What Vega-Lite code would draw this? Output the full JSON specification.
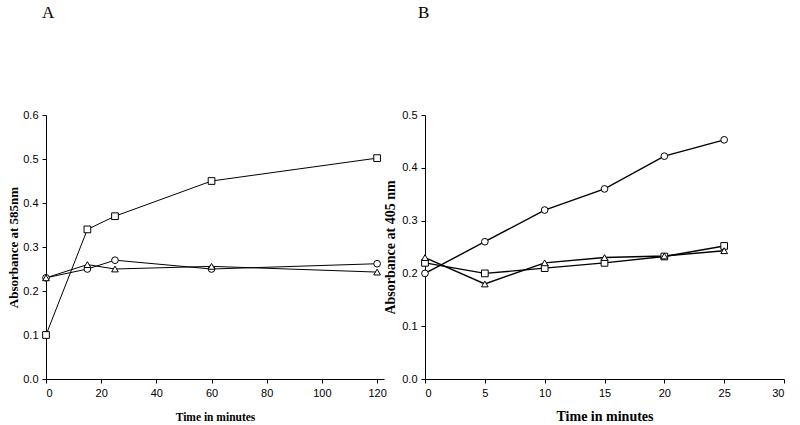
{
  "$schema": "https://vega.github.io/schema/vega-lite/v6.json",
  "padding": {"left": 7, "top": 4, "right": 0, "bottom": 0},
  "background": "white",
  "spacing": -4,
  "config": {
    "view": {"stroke": null},
    "axis": {"grid": false, "domainColor": "black", "tickColor": "black", "labelColor": "black", "titleColor": "black", "labelFont": "Liberation Sans", "titleFont": "Liberation Serif", "titleFontWeight": "bold", "tickSize": 4, "labelPadding": 4, "labelFontSize": 11},
    "title": {"font": "Liberation Serif", "fontWeight": "normal", "fontSize": 17, "color": "black", "anchor": "start", "frame": "group", "offset": 87}
  },
  "datasets": {
    "a": [
      {"time": 0, "abs": 0.10, "series": "square"},
      {"time": 15, "abs": 0.34, "series": "square"},
      {"time": 25, "abs": 0.37, "series": "square"},
      {"time": 60, "abs": 0.45, "series": "square"},
      {"time": 120, "abs": 0.502, "series": "square"},
      {"time": 0, "abs": 0.23, "series": "circle"},
      {"time": 15, "abs": 0.25, "series": "circle"},
      {"time": 25, "abs": 0.27, "series": "circle"},
      {"time": 60, "abs": 0.25, "series": "circle"},
      {"time": 120, "abs": 0.262, "series": "circle"},
      {"time": 0, "abs": 0.23, "series": "triangle"},
      {"time": 15, "abs": 0.26, "series": "triangle"},
      {"time": 25, "abs": 0.25, "series": "triangle"},
      {"time": 60, "abs": 0.256, "series": "triangle"},
      {"time": 120, "abs": 0.243, "series": "triangle"}
    ],
    "b": [
      {"time": 0, "abs": 0.20, "series": "circle"},
      {"time": 5, "abs": 0.26, "series": "circle"},
      {"time": 10, "abs": 0.32, "series": "circle"},
      {"time": 15, "abs": 0.36, "series": "circle"},
      {"time": 20, "abs": 0.422, "series": "circle"},
      {"time": 25, "abs": 0.453, "series": "circle"},
      {"time": 0, "abs": 0.22, "series": "square"},
      {"time": 5, "abs": 0.20, "series": "square"},
      {"time": 10, "abs": 0.21, "series": "square"},
      {"time": 15, "abs": 0.22, "series": "square"},
      {"time": 20, "abs": 0.232, "series": "square"},
      {"time": 25, "abs": 0.252, "series": "square"},
      {"time": 0, "abs": 0.23, "series": "triangle"},
      {"time": 5, "abs": 0.18, "series": "triangle"},
      {"time": 10, "abs": 0.22, "series": "triangle"},
      {"time": 15, "abs": 0.23, "series": "triangle"},
      {"time": 20, "abs": 0.233, "series": "triangle"},
      {"time": 25, "abs": 0.243, "series": "triangle"}
    ]
  },
  "hconcat": [
    {
      "width": 338,
      "height": 264,
      "title": {"text": "A", "dx": -4},
      "data": {"name": "a"},
      "encoding": {
        "x": {"field": "time", "type": "quantitative", "scale": {"domain": [0, 122.5], "nice": false}, "axis": {"values": [0, 20, 40, 60, 80, 100, 120], "title": "Time in minutes", "titleFontSize": 11.5, "titlePadding": 13}},
        "y": {"field": "abs", "type": "quantitative", "scale": {"domain": [0, 0.6], "nice": false}, "axis": {"values": [0, 0.1, 0.2, 0.3, 0.4, 0.5, 0.6], "format": ".1f", "title": "Absorbance at 585nm", "titleFontSize": 13, "titlePadding": 2}}
      },
      "layer": [
        {"mark": {"type": "line", "color": "black", "strokeWidth": 1}, "encoding": {"detail": {"field": "series"}}},
        {"mark": {"type": "point", "filled": true, "fill": "white", "stroke": "black", "strokeWidth": 1, "size": 45, "opacity": 1},
         "encoding": {"shape": {"field": "series", "type": "nominal", "scale": {"domain": ["square", "circle", "triangle"], "range": ["square", "circle", "triangle-up"]}, "legend": null}}}
      ]
    },
    {
      "width": 359,
      "height": 264,
      "title": {"text": "B", "dx": -7},
      "data": {"name": "b"},
      "encoding": {
        "x": {"field": "time", "type": "quantitative", "scale": {"domain": [0, 30], "nice": false}, "axis": {"values": [0, 5, 10, 15, 20, 25, 30], "title": "Time in minutes", "titleFontSize": 14, "titlePadding": 11}},
        "y": {"field": "abs", "type": "quantitative", "scale": {"domain": [0, 0.5], "nice": false}, "axis": {"values": [0, 0.1, 0.2, 0.3, 0.4, 0.5], "format": ".1f", "title": "Absorbance at 405 nm", "titleFontSize": 14, "titlePadding": 4}}
      },
      "layer": [
        {"mark": {"type": "line", "color": "black", "strokeWidth": 1.4}, "encoding": {"detail": {"field": "series"}}},
        {"mark": {"type": "point", "filled": true, "fill": "white", "stroke": "black", "strokeWidth": 1, "size": 45, "opacity": 1},
         "encoding": {"shape": {"field": "series", "type": "nominal", "scale": {"domain": ["square", "circle", "triangle"], "range": ["square", "circle", "triangle-up"]}, "legend": null}}}
      ]
    }
  ]
}
